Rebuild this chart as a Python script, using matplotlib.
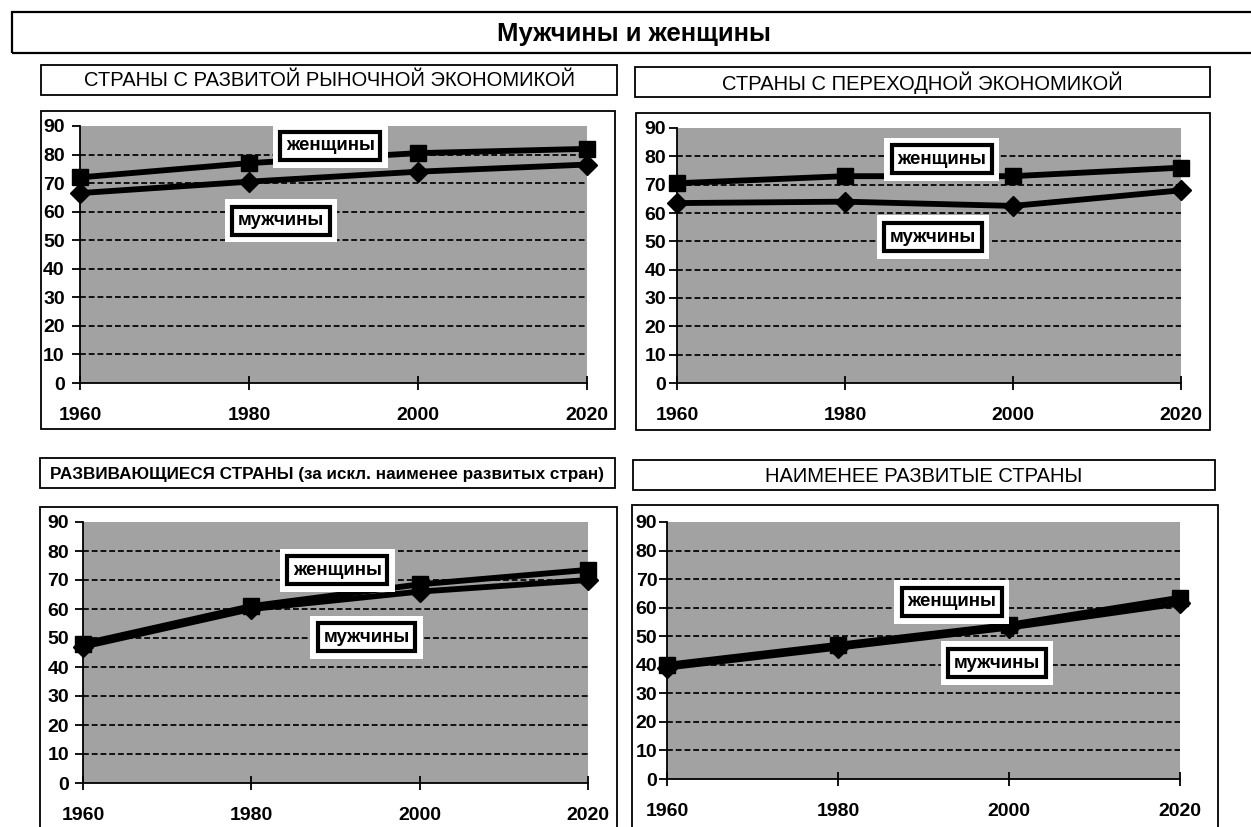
import matplotlib
matplotlib.use("Agg")
import matplotlib.pyplot as plt
from matplotlib.patches import Rectangle

plt.rcParams["font.family"] = ["Liberation Sans", "DejaVu Sans"]

# data
years = [1960, 1980, 2000, 2020]
y_ticks = [0, 10, 20, 30, 40, 50, 60, 70, 80, 90]

title_main = "Мужчины и женщины"
panel_titles = [
    "СТРАНЫ С РАЗВИТОЙ РЫНОЧНОЙ ЭКОНОМИКОЙ",
    "СТРАНЫ С ПЕРЕХОДНОЙ ЭКОНОМИКОЙ",
    "РАЗВИВАЮЩИЕСЯ СТРАНЫ (за искл. наименее развитых стран)",
    "НАИМЕНЕЕ РАЗВИТЫЕ СТРАНЫ",
]
women = [
    [72, 77, 80.5, 82],
    [70.5, 73, 73, 76],
    [48, 61, 68.5, 73.5],
    [40, 47, 54, 63.5],
]
men = [
    [66.5, 70.5, 74, 76.5],
    [63.5, 64, 62.5, 68],
    [47, 60, 66, 70],
    [39, 46, 53, 61.5],
]
label_women = "женщины"
label_men = "мужчины"
# label anchor positions (year, value)
women_pos = [(1989.6, 83), (1991.5, 79), (1990.2, 73.4), (1993.3, 62)]
men_pos = [(1983.8, 56.8), (1990.5, 51.5), (1993.7, 50.3), (1998.6, 40.6)]

W, H = 1251, 827
fig = plt.figure(figsize=(W / 100, H / 100), dpi=100)
fig.patch.set_facecolor("white")


def px_rect(x0, y0, x1, y1, lw=1.3):
    r = Rectangle((x0 / W, 1 - y1 / H), (x1 - x0) / W, (y1 - y0) / H,
                  transform=fig.transFigure, fill=False, edgecolor="black",
                  linewidth=lw, zorder=0)
    fig.patches.append(r)


# main title box
px_rect(12, 12, 1262, 53, lw=1.6)
fig.text(634 / W, 1 - 34 / H, title_main, ha="center", va="center",
         fontsize=18.5, fontweight="bold")

title_boxes = [(41, 65, 617, 95), (635, 67, 1210, 97),
               (40, 458, 615, 488), (633, 460, 1215, 490)]
frames = [(41, 111, 615, 429), (636, 113, 1210, 430),
          (40, 507, 617, 840), (632, 505, 1218, 840)]
axes_px = [(80, 126, 587, 383), (677, 128, 1181, 383),
           (83, 522, 588, 783), (667, 522, 1180, 779)]
ytick_pad = [5, 2, 4, 1]

for i in range(4):
    tb = title_boxes[i]
    px_rect(*tb)
    cx, cy = (tb[0] + tb[2]) / 2, (tb[1] + tb[3]) / 2 + 1
    if i == 2:
        fig.text(cx / W, 1 - cy / H, panel_titles[i], ha="center", va="center",
                 fontsize=12.3, fontweight="bold")
    else:
        fig.text(cx / W, 1 - cy / H, panel_titles[i], ha="center", va="center",
                 fontsize=14.5)
    px_rect(*frames[i])

    x0, y0, x1, y1 = axes_px[i]
    ax = fig.add_axes([x0 / W, 1 - y1 / H, (x1 - x0) / W, (y1 - y0) / H])
    ax.set_facecolor("#a2a2a2")
    ax.set_xlim(1960, 2020)
    ax.set_ylim(0, 90)
    ax.set_yticks(y_ticks)
    ax.set_xticks(years)
    for s in ["top", "right"]:
        ax.spines[s].set_visible(False)
    ax.spines["left"].set_linewidth(1.3)
    ax.spines["bottom"].set_linewidth(1.3)
    ax.tick_params(axis="y", direction="out", length=6, width=1.3,
                   labelsize=14, pad=ytick_pad[i])
    ax.tick_params(axis="x", direction="inout", length=10, width=1.3,
                   labelsize=14, pad=12)
    for lab in ax.get_xticklabels() + ax.get_yticklabels():
        lab.set_fontweight("bold")
    for y in y_ticks[1:-1]:
        ax.axhline(y, color="#111111", linestyle=(0, (3, 1.5)), linewidth=1.4, zorder=1)

    ax.plot(years, women[i], color="black", linewidth=4.2, marker="s",
            markersize=12, zorder=4, clip_on=False)
    ax.plot(years, men[i], color="black", linewidth=4.2, marker="D",
            markersize=10, zorder=3, clip_on=False)

    for txt, (lx, ly) in [(label_women, women_pos[i]), (label_men, men_pos[i])]:
        ax.text(lx, ly, txt, ha="center", va="center", fontsize=13.5,
                fontweight="bold", zorder=6, color="white",
                bbox=dict(boxstyle="square,pad=0.7", fc="white", ec="none"))
        ax.text(lx, ly, txt, ha="center", va="center", fontsize=13.5,
                fontweight="bold", zorder=7,
                bbox=dict(boxstyle="square,pad=0.3", fc="white", ec="black", lw=3))

fig.savefig("out.png", dpi=100)
